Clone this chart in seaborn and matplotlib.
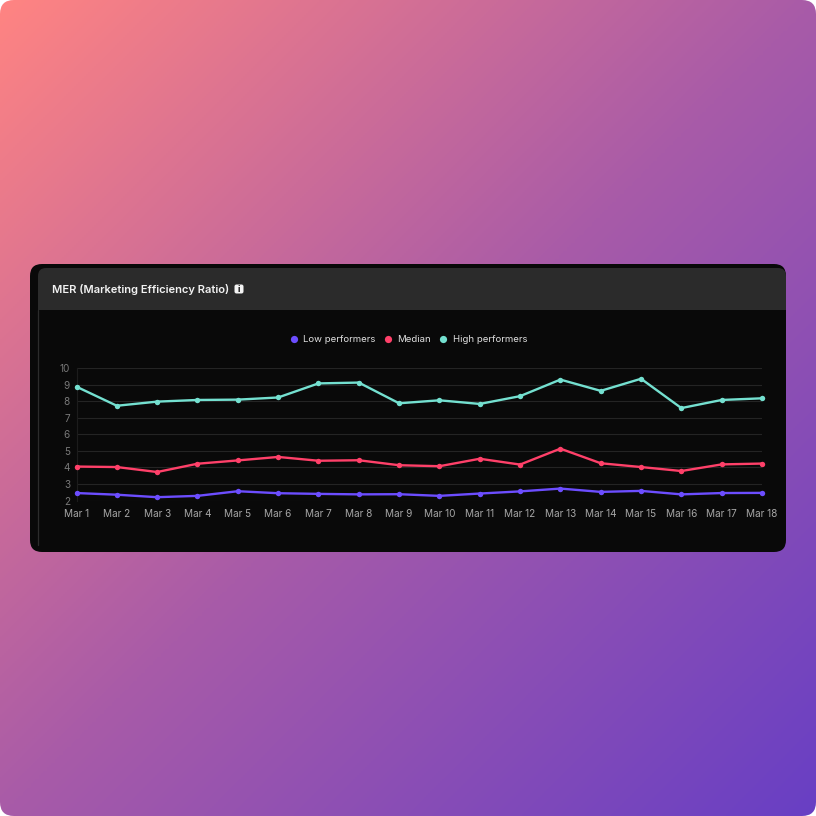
import numpy as np
import pandas as pd
import matplotlib
matplotlib.use("Agg")
import matplotlib.pyplot as plt
from matplotlib.colors import LinearSegmentedColormap
from matplotlib.lines import Line2D
from matplotlib.patches import FancyBboxPatch, Rectangle
import seaborn as sns

days = ["Mar 1", "Mar 2", "Mar 3", "Mar 4", "Mar 5", "Mar 6", "Mar 7", "Mar 8", "Mar 9",
        "Mar 10", "Mar 11", "Mar 12", "Mar 13", "Mar 14", "Mar 15", "Mar 16", "Mar 17", "Mar 18"]
low = [2.45, 2.35, 2.20, 2.28, 2.56, 2.44, 2.40, 2.37, 2.38,
       2.28, 2.42, 2.55, 2.72, 2.52, 2.58, 2.37, 2.45, 2.46]
median = [4.05, 4.02, 3.72, 4.22, 4.42, 4.63, 4.40, 4.43, 4.13,
          4.07, 4.52, 4.17, 5.13, 4.25, 4.02, 3.78, 4.18, 4.23]
high = [8.87, 7.72, 7.97, 8.07, 8.09, 8.22, 9.07, 9.12, 7.87,
        8.05, 7.83, 8.30, 9.30, 8.62, 9.35, 7.58, 8.07, 8.17]
series_names = ["Low performers", "Median", "High performers"]
series_colors = ["#6C4DFF", "#FF4069", "#74E0D0"]
y_ticks = [2, 3, 4, 5, 6, 7, 8, 9, 10]

sns.set_theme(style="dark")
plt.rcParams["font.family"] = ["Inter", "DejaVu Sans"]

W = H = 816
fig = plt.figure(figsize=(W / 100, H / 100), dpi=100, facecolor="white")

# Page backdrop: rounded diagonal gradient, with the card on top, in pixel coordinates
page = fig.add_axes([0, 0, 1, 1], zorder=0)
page.set_xlim(0, W)
page.set_ylim(H, 0)
page.axis("off")
gx, gy = np.meshgrid(np.linspace(0, 1, 400), np.linspace(0, 1, 400))
cmap = LinearSegmentedColormap.from_list("page", ["#FF8482", "#A85BA8", "#683FC4"])
backdrop = page.imshow((gx + gy) / 2, cmap=cmap, vmin=0, vmax=1, extent=(0, W, H, 0), aspect="auto")
page_shape = FancyBboxPatch((0, 0), W, H, boxstyle="round,pad=0,rounding_size=14",
                            fc="none", ec="none")
page.add_patch(page_shape)
backdrop.set_clip_path(page_shape)

page.add_patch(FancyBboxPatch((30, 264), 756, 288, boxstyle="round,pad=0,rounding_size=12",
                              fc="#090909", ec="none"))
header = FancyBboxPatch((38, 268), 748, 70, boxstyle="round,pad=0,rounding_size=8",
                        fc="#2B2B2B", ec="none")
page.add_patch(header)
header_cut = Rectangle((30, 260), 760, 50, transform=page.transData)
header.set_clip_path(header_cut)
page.plot([37.7, 37.7], [310, 545], color="#2C2C2C", lw=0.9)
page.text(52, 289.5, "MER (Marketing Efficiency Ratio)", color="#F2F2F2", fontsize=8.0,
          fontweight="semibold", va="center", ha="left")
page.add_patch(FancyBboxPatch((234.5, 284.5), 9, 9, boxstyle="round,pad=0,rounding_size=2",
                              fc="#F4F4F4", ec="none"))
page.text(239, 289.2, "i", color="#111111", fontsize=6.5, fontweight="bold", va="center", ha="center")

# Chart area
left, right, top, bottom = 76.5, 762, 368, 500.5
ax = fig.add_axes([left / W, 1 - bottom / H, (right - left) / W, (bottom - top) / H], zorder=1)
ax.patch.set_alpha(0)

frame = pd.DataFrame({"day": list(range(len(days))) * 3,
                      "value": low + median + high,
                      "series": np.repeat(series_names, len(days))})
sns.lineplot(data=frame, x="day", y="value", hue="series", hue_order=series_names,
             palette=series_colors, marker="o", markersize=3.9, markeredgewidth=0,
             linewidth=1.7, legend=False, ax=ax)
for line in ax.lines:
    line.set_clip_on(False)
    line.set_zorder(5)

ax.set_xlim(0, len(days) - 1)
ax.set_ylim(2, 10)
ax.set_xlabel("")
ax.set_ylabel("")
ax.set_xticks(range(len(days)), days)
ax.set_yticks(y_ticks)
ax.tick_params(axis="x", length=0, pad=6.3, labelsize=7.2, labelcolor="#A6A6A6")
ax.tick_params(axis="y", length=0, pad=4.6, labelsize=7.2, labelcolor="#787878")
ax.grid(axis="y", color="#242424", linewidth=0.8)
ax.grid(axis="x", visible=False)
ax.set_axisbelow(True)
for name, spine in ax.spines.items():
    spine.set_visible(name == "left")
    spine.set_color("#1C1C1C")
    spine.set_linewidth(0.8)

handles = [Line2D([], [], linestyle="none", marker="o", markersize=5.2, markeredgewidth=0,
                  color=c, label=n) for c, n in zip(series_colors, series_names)]
page.legend(handles=handles, ncol=3, loc="center", bbox_to_anchor=(408, 340),
            bbox_transform=page.transData, frameon=False, fontsize=6.9, labelcolor="#E0E0E0",
            handletextpad=0.45, columnspacing=0.82, handlelength=1.0)

fig.savefig("out.png", dpi=100, facecolor="white")
